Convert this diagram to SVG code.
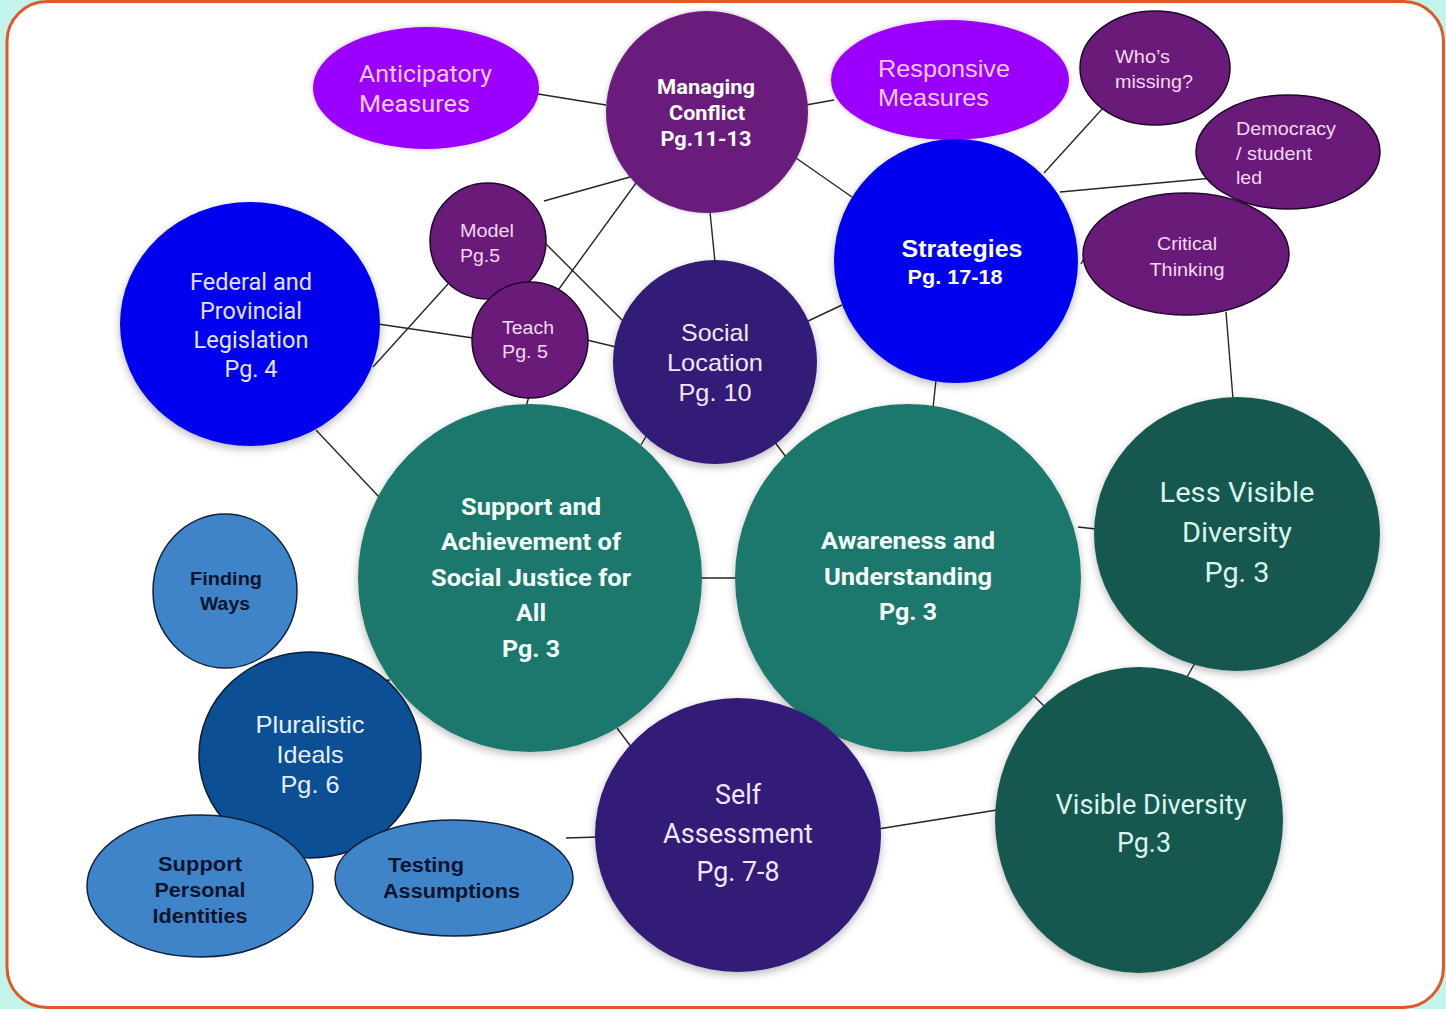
<svg xmlns="http://www.w3.org/2000/svg" width="1446" height="1009" viewBox="0 0 1446 1009">
  <defs>
    <filter id="shadow" x="-20%" y="-20%" width="140%" height="140%">
      <feDropShadow dx="0" dy="3" stdDeviation="4" flood-color="#000" flood-opacity="0.28"/>
    </filter>
    <filter id="glow" x="-20%" y="-20%" width="140%" height="140%">
      <feDropShadow dx="0" dy="0" stdDeviation="2.5" flood-color="#000" flood-opacity="0.25"/>
    </filter>
    <style>
      .edge { stroke: #262626; stroke-width: 1.4; fill: none; }
      .violet { fill: #9b00ff; filter: url(#glow); }
      .plum { fill: #6b1b7d; filter: url(#glow); }
      .plum-o { fill: #6a1b7a; stroke: #1e0828; stroke-width: 1.5; }
      .blue { fill: #0500ef; filter: url(#shadow); }
      .indigo { fill: #331a78; filter: url(#shadow); }
      .teal { fill: #1e786c; filter: url(#shadow); }
      .deepteal { fill: #17594f; filter: url(#shadow); }
      .sky { fill: #3f84c9; stroke: #10223c; stroke-width: 1.5; }
      .navy { fill: #0c4f94; stroke: #0a1e3a; stroke-width: 1.5; }
      text { font-family: Roboto, "Liberation Sans", sans-serif; }
      .arial { font-family: "Liberation Sans", Arial, sans-serif; }
      .mid { text-anchor: middle; }
      .b { font-weight: bold; }
    </style>
  </defs>

  <!-- page frame -->
  <rect x="0" y="0" width="1446" height="1009" fill="#c2f4ec"/>
  <rect x="7" y="1.5" width="1436.5" height="1006" rx="40" ry="40" fill="#ffffff" stroke="#e2572a" stroke-width="3"/>

  <!-- connectors -->
  <g id="connectors">
    <line class="edge" x1="538" y1="94" x2="606" y2="105"/>
    <line class="edge" x1="806" y1="105" x2="834" y2="100"/>
    <line class="edge" x1="796" y1="158" x2="852" y2="197"/>
    <line class="edge" x1="710" y1="212" x2="715" y2="262"/>
    <line class="edge" x1="630" y1="177" x2="544" y2="201"/>
    <line class="edge" x1="636" y1="183" x2="556" y2="293"/>
    <line class="edge" x1="546" y1="244" x2="624" y2="322"/>
    <line class="edge" x1="378" y1="324" x2="473" y2="338"/>
    <line class="edge" x1="373" y1="367" x2="448" y2="284"/>
    <line class="edge" x1="587" y1="340" x2="616" y2="347"/>
    <line class="edge" x1="529" y1="396" x2="526" y2="407"/>
    <line class="edge" x1="316" y1="430" x2="380" y2="498"/>
    <line class="edge" x1="641" y1="445" x2="648" y2="433"/>
    <line class="edge" x1="774" y1="441" x2="786" y2="457"/>
    <line class="edge" x1="806" y1="322" x2="842" y2="305"/>
    <line class="edge" x1="936" y1="380" x2="933" y2="408"/>
    <line class="edge" x1="1044" y1="173" x2="1103" y2="108"/>
    <line class="edge" x1="1060" y1="192" x2="1224" y2="177"/>
    <line class="edge" x1="1081" y1="264" x2="1098" y2="234"/>
    <line class="edge" x1="1226" y1="312" x2="1233" y2="399"/>
    <line class="edge" x1="701" y1="578" x2="737" y2="578"/>
    <line class="edge" x1="1078" y1="527" x2="1096" y2="529"/>
    <line class="edge" x1="1195" y1="663" x2="1187" y2="677"/>
    <line class="edge" x1="1033" y1="695" x2="1046" y2="708"/>
    <line class="edge" x1="617" y1="728" x2="632" y2="748"/>
    <line class="edge" x1="878" y1="829" x2="997" y2="810"/>
    <line class="edge" x1="566" y1="838" x2="598" y2="837"/>
    <line class="edge" x1="374" y1="682" x2="390" y2="680"/>
  </g>

  <!-- top cluster -->
  <g id="anticipatory-measures">
    <ellipse class="violet" cx="426" cy="88" rx="113" ry="61"/>
    <text fill="#f8ccf6" font-size="24"><tspan x="359" y="82" textLength="133" lengthAdjust="spacingAndGlyphs">Anticipatory</tspan><tspan x="359" y="112" textLength="111" lengthAdjust="spacingAndGlyphs">Measures</tspan></text>
  </g>

  <g id="responsive-measures">
    <ellipse class="violet" cx="950" cy="80" rx="119" ry="60"/>
    <text class="arial" fill="#f8ccf6" font-size="24"><tspan x="878" y="77" textLength="132" lengthAdjust="spacingAndGlyphs">Responsive</tspan><tspan x="878" y="106" textLength="111" lengthAdjust="spacingAndGlyphs">Measures</tspan></text>
  </g>

  <g id="managing-conflict">
    <circle class="plum" cx="707" cy="112" r="101"/>
    <text class="mid b" fill="#ffffff" font-size="20"><tspan x="706" y="94" textLength="98" lengthAdjust="spacingAndGlyphs">Managing</tspan><tspan x="707" y="120" textLength="76" lengthAdjust="spacingAndGlyphs">Conflict</tspan><tspan x="706" y="146" textLength="91" lengthAdjust="spacingAndGlyphs">Pg.11-13</tspan></text>
  </g>

  <g id="whos-missing">
    <ellipse class="plum-o" cx="1155" cy="68" rx="75" ry="57"/>
    <text class="arial" fill="#f2d8f0" font-size="19"><tspan x="1115" y="63" textLength="55" lengthAdjust="spacingAndGlyphs">Who’s</tspan><tspan x="1115" y="88" textLength="78" lengthAdjust="spacingAndGlyphs">missing?</tspan></text>
  </g>

  <g id="democracy-student-led">
    <ellipse class="plum-o" cx="1288" cy="152" rx="92" ry="57"/>
    <text class="arial" fill="#f2d8f0" font-size="19"><tspan x="1236" y="135" textLength="100" lengthAdjust="spacingAndGlyphs">Democracy</tspan><tspan x="1236" y="160" textLength="76" lengthAdjust="spacingAndGlyphs">/ student</tspan><tspan x="1236" y="184" textLength="26" lengthAdjust="spacingAndGlyphs">led</tspan></text>
  </g>

  <g id="strategies">
    <circle class="blue" cx="956" cy="261" r="122"/>
    <text class="arial mid b" fill="#ffffff"><tspan x="962" y="257" font-size="24" textLength="121" lengthAdjust="spacingAndGlyphs">Strategies</tspan><tspan x="955" y="284" font-size="21" textLength="95" lengthAdjust="spacingAndGlyphs">Pg. 17-18</tspan></text>
  </g>

  <g id="critical-thinking">
    <ellipse class="plum-o" cx="1186" cy="254" rx="103" ry="61"/>
    <text class="arial mid" fill="#f2d8f0" font-size="19"><tspan x="1187" y="250" textLength="60" lengthAdjust="spacingAndGlyphs">Critical</tspan><tspan x="1187" y="276" textLength="75" lengthAdjust="spacingAndGlyphs">Thinking</tspan></text>
  </g>

  <!-- left cluster -->
  <g id="federal-provincial-legislation">
    <ellipse class="blue" cx="250" cy="324" rx="130" ry="122"/>
    <text class="mid" fill="#e2e4ff" font-size="23"><tspan x="251" y="290" textLength="122" lengthAdjust="spacingAndGlyphs">Federal and</tspan><tspan x="251" y="319" textLength="102" lengthAdjust="spacingAndGlyphs">Provincial</tspan><tspan x="251" y="348" textLength="115" lengthAdjust="spacingAndGlyphs">Legislation</tspan><tspan x="251" y="377" textLength="53" lengthAdjust="spacingAndGlyphs">Pg. 4</tspan></text>
  </g>

  <g id="model">
    <circle class="plum-o" cx="488" cy="241" r="58"/>
    <text class="arial" fill="#f2d8f0" font-size="18"><tspan x="460" y="237" textLength="54" lengthAdjust="spacingAndGlyphs">Model</tspan><tspan x="460" y="262" textLength="40" lengthAdjust="spacingAndGlyphs">Pg.5</tspan></text>
  </g>

  <g id="teach">
    <circle class="plum-o" cx="530" cy="340" r="58"/>
    <text class="arial mid" fill="#f2d8f0" font-size="18"><tspan x="528" y="334" textLength="52" lengthAdjust="spacingAndGlyphs">Teach</tspan><tspan x="525" y="358" textLength="46" lengthAdjust="spacingAndGlyphs">Pg. 5</tspan></text>
  </g>

  <g id="social-location">
    <circle class="indigo" cx="715" cy="362" r="102"/>
    <text class="arial mid" fill="#f2e6f4" font-size="24"><tspan x="715" y="341" textLength="68" lengthAdjust="spacingAndGlyphs">Social</tspan><tspan x="715" y="371" textLength="96" lengthAdjust="spacingAndGlyphs">Location</tspan><tspan x="715" y="401" textLength="73" lengthAdjust="spacingAndGlyphs">Pg. 10</tspan></text>
  </g>

  <!-- core nodes -->
  <g id="support-achievement">
    <ellipse class="teal" cx="530" cy="578" rx="172" ry="174"/>
    <text class="mid b" fill="#f4fff9" font-size="24"><tspan x="531" y="515" textLength="140" lengthAdjust="spacingAndGlyphs">Support and</tspan><tspan x="531" y="550" textLength="180" lengthAdjust="spacingAndGlyphs">Achievement of</tspan><tspan x="531" y="586" textLength="200" lengthAdjust="spacingAndGlyphs">Social Justice for</tspan><tspan x="531" y="621" textLength="30" lengthAdjust="spacingAndGlyphs">All</tspan><tspan x="531" y="657" textLength="58" lengthAdjust="spacingAndGlyphs">Pg. 3</tspan></text>
  </g>

  <g id="awareness-understanding">
    <ellipse class="teal" cx="908" cy="578" rx="173" ry="174"/>
    <text class="mid b" fill="#f4fff9" font-size="24"><tspan x="908" y="549" textLength="174" lengthAdjust="spacingAndGlyphs">Awareness and</tspan><tspan x="908" y="585" textLength="168" lengthAdjust="spacingAndGlyphs">Understanding</tspan><tspan x="908" y="620" textLength="58" lengthAdjust="spacingAndGlyphs">Pg. 3</tspan></text>
  </g>

  <g id="less-visible-diversity">
    <ellipse class="deepteal" cx="1237" cy="534" rx="143" ry="137"/>
    <text class="mid" fill="#d9f5ec" font-size="28"><tspan x="1237" y="502" textLength="155" lengthAdjust="spacingAndGlyphs">Less Visible</tspan><tspan x="1237" y="542" textLength="110" lengthAdjust="spacingAndGlyphs">Diversity</tspan><tspan x="1237" y="582" textLength="65" lengthAdjust="spacingAndGlyphs">Pg. 3</tspan></text>
  </g>

  <g id="visible-diversity">
    <ellipse class="deepteal" cx="1139" cy="820" rx="144" ry="153"/>
    <text class="mid" fill="#d9f5ec" font-size="27"><tspan x="1151" y="814" textLength="191" lengthAdjust="spacingAndGlyphs">Visible Diversity</tspan><tspan x="1144" y="852" textLength="54" lengthAdjust="spacingAndGlyphs">Pg.3</tspan></text>
  </g>

  <g id="self-assessment">
    <ellipse class="indigo" cx="738" cy="835" rx="143" ry="137"/>
    <text class="mid" fill="#efe6f7" font-size="27"><tspan x="738" y="804" textLength="46" lengthAdjust="spacingAndGlyphs">Self</tspan><tspan x="738" y="843" textLength="150" lengthAdjust="spacingAndGlyphs">Assessment</tspan><tspan x="738" y="881" textLength="83" lengthAdjust="spacingAndGlyphs">Pg. 7-8</tspan></text>
  </g>

  <!-- lower-left cluster -->
  <g id="finding-ways">
    <ellipse class="sky" cx="225" cy="591" rx="72" ry="77"/>
    <text class="arial mid b" fill="#0b1530" font-size="18"><tspan x="226" y="585" textLength="72" lengthAdjust="spacingAndGlyphs">Finding</tspan><tspan x="225" y="610" textLength="50" lengthAdjust="spacingAndGlyphs">Ways</tspan></text>
  </g>

  <g id="pluralistic-ideals">
    <ellipse class="navy" cx="310" cy="755" rx="111" ry="103"/>
    <text class="arial mid" fill="#e6efff" font-size="24"><tspan x="310" y="733" textLength="109" lengthAdjust="spacingAndGlyphs">Pluralistic</tspan><tspan x="310" y="763" textLength="67" lengthAdjust="spacingAndGlyphs">Ideals</tspan><tspan x="310" y="793" textLength="59" lengthAdjust="spacingAndGlyphs">Pg. 6</tspan></text>
  </g>

  <g id="support-personal-identities">
    <ellipse class="sky" cx="200" cy="886" rx="113" ry="71"/>
    <text class="arial mid b" fill="#0b1530" font-size="20"><tspan x="200" y="871" textLength="84" lengthAdjust="spacingAndGlyphs">Support</tspan><tspan x="200" y="897" textLength="91" lengthAdjust="spacingAndGlyphs">Personal</tspan><tspan x="200" y="923" textLength="95" lengthAdjust="spacingAndGlyphs">Identities</tspan></text>
  </g>

  <g id="testing-assumptions">
    <ellipse class="sky" cx="454" cy="878" rx="119" ry="58"/>
    <text class="arial b" fill="#0b1530" font-size="20"><tspan x="388" y="872" textLength="76" lengthAdjust="spacingAndGlyphs">Testing</tspan><tspan x="383" y="898" textLength="137" lengthAdjust="spacingAndGlyphs">Assumptions</tspan></text>
  </g>
</svg>
